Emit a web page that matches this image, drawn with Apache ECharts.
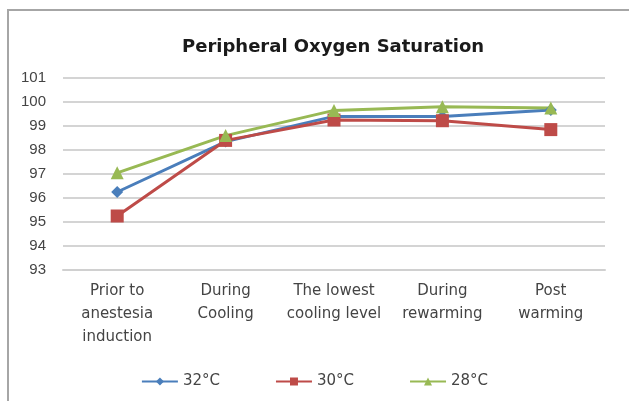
<!DOCTYPE html>
<html><head><meta charset="utf-8">
<script src="https://cdn.jsdelivr.net/npm/echarts@6/dist/echarts.min.js"></script>
<style>
html,body{margin:0;padding:0;background:#fff;}
#frame{position:absolute;left:7px;top:9px;width:622px;height:392px;border-left:2px solid #a6a6a6;border-top:2px solid #a6a6a6;}
#c{position:absolute;left:0;top:0;width:629px;height:401px;}
</style></head>
<body>
<div id="frame"></div>
<div id="c"></div>
<script>
const categories = ['Prior to\nanestesia\ninduction', 'During\nCooling', 'The lowest\ncooling level', 'During\nrewarming', 'Post\nwarming'];
const s32 = [96.25, 98.35, 99.4, 99.4, 99.67];
const s30 = [95.25, 98.4, 99.25, 99.22, 98.85];
const s28 = [97.05, 98.6, 99.65, 99.8, 99.75];
const yTicks = [93, 94, 95, 96, 97, 98, 99, 100, 101];

const chart = echarts.init(document.getElementById('c'), null, {renderer: 'canvas'});
const font = 'Liberation Sans, Arial, sans-serif';
const wide = 'DejaVu Sans, sans-serif';
function mk(name, data, color, symbol, size) {
  return {
    name, type: 'line', data, symbol, symbolSize: size,
    lineStyle: {color, width: 3},
    itemStyle: {color},
    animation: false
  };
}
chart.setOption({
  backgroundColor: 'transparent',
  title: {
    text: 'Peripheral Oxygen Saturation', left: 177, top: 33,
    textStyle: {fontFamily: wide, fontSize: 18, fontWeight: 'bold', color: '#1a1a1a'}
  },
  legend: {
    bottom: 7, left: 'center', itemGap: 55, itemWidth: 36, itemHeight: 10,
    textStyle: {fontFamily: wide, fontSize: 15, color: '#444'},
    data: ['32°C', '30°C', '28°C']
  },
  grid: {left: 63, right: 24, top: 78, bottom: 131},
  xAxis: {
    type: 'category', data: categories, boundaryGap: true,
    axisLine: {show: true, lineStyle: {color: '#d0d0d0', width: 2}},
    axisTick: {show: false},
    axisLabel: {fontFamily: wide, fontSize: 15, color: '#444', lineHeight: 23, margin: 10, interval: 0}
  },
  yAxis: {
    type: 'value', min: yTicks[0], max: yTicks[yTicks.length - 1], interval: 1,
    axisLine: {show: false}, axisTick: {show: false},
    axisLabel: {fontFamily: font, fontSize: 15, color: '#444', margin: 17},
    splitLine: {lineStyle: {color: '#d4d4d4', width: 2}}
  },
  series: [
    mk('32°C', s32, '#4a7ebb', 'diamond', 12),
    mk('30°C', s30, '#be4b48', 'rect', 13),
    mk('28°C', s28, '#98b954', 'triangle', 13)
  ]
});
</script>
</body></html>
